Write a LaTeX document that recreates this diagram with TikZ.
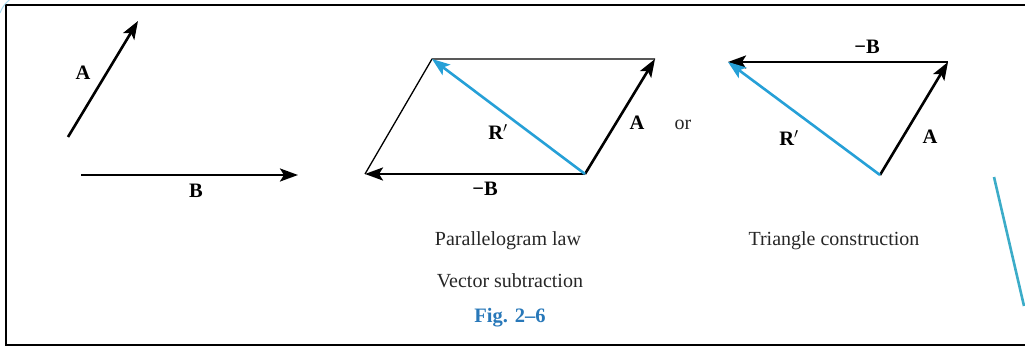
\documentclass[tikz,border=0pt]{standalone}
\usepackage{fontspec}
\setmainfont{Liberation Serif}
\usetikzlibrary{arrows.meta}
\definecolor{rblue}{RGB}{38,160,215}
\definecolor{figblue}{RGB}{40,120,185}
\definecolor{strayblue}{RGB}{60,172,200}
\tikzset{
  vecarrow/.style={line width=2.6pt,-{Stealth[length=18pt,width=13pt,inset=4pt]}},
  rvecarrow/.style={vecarrow,draw=rblue},
  thinedge/.style={line width=1.3pt},
  lbltext/.style={font=\fontsize{20.5}{24}\selectfont\bfseries,inner sep=0pt},
  captext/.style={font=\fontsize{20}{24}\selectfont,inner sep=0pt,text=black!85},
}
\begin{document}
\begin{tikzpicture}[x=1pt,y=-1pt]
\useasboundingbox (0,0) rectangle (1025,347);
% frame
\draw[line width=2.5pt] (1030,5) -- (6,5) -- (6,345) -- (1030,345);
\draw[rblue!40,line width=1pt] (0,13) arc[start angle=200,end angle=250,radius=30];
\draw[strayblue,line width=2.6pt] (994,177) -- (1024,306);
% left vectors
\coordinate (a0) at (68,137);
\coordinate (a1) at (138,21);
\coordinate (b0) at (81,175);
\coordinate (b1) at (298,175);
\draw[vecarrow] (a0) -- (a1);
\draw[vecarrow] (b0) -- (b1);
\node[lbltext] (la) at (83,73) {A};
\node[lbltext] (lb) at (196,191) {B};
% parallelogram
\coordinate (p1) at (432,59);
\coordinate (p2) at (655,59);
\coordinate (p3) at (585,174);
\coordinate (p4) at (365,174);
\draw[thinedge] (p4) -- (p1) -- (p2);
\draw[vecarrow] (p3) -- (p2);
\draw[vecarrow] (p3) -- (p4);
\draw[rvecarrow] (p3) -- (p1);
\node[lbltext] (pr) at (498,132) {R$'$};
\node[lbltext] (pa) at (637,123) {A};
\node[lbltext] (pb) at (485,189) {−B};
\node[captext] (or) at (683,125) {or};
% triangle
\coordinate (t1) at (728,62);
\coordinate (t2) at (948,62);
\coordinate (t3) at (880,175);
\draw[vecarrow] (t3) -- (t2);
\draw[vecarrow] (t2) -- (t1);
\draw[rvecarrow] (t3) -- (t1);
\node[lbltext] (tb) at (867,47) {−B};
\node[lbltext] (tr) at (789,138) {R$'$};
\node[lbltext] (ta) at (930,137) {A};
% captions
\node[captext] (c1) at (508,241) {Parallelogram law};
\node[captext] (c2) at (510,281) {Vector subtraction};
\node[captext] (c3) at (834,241) {Triangle construction};
\node[captext,font=\fontsize{20.5}{24}\selectfont\bfseries,text=figblue] (c4) at (510,318) {Fig. 2–6};
\end{tikzpicture}
\end{document}
